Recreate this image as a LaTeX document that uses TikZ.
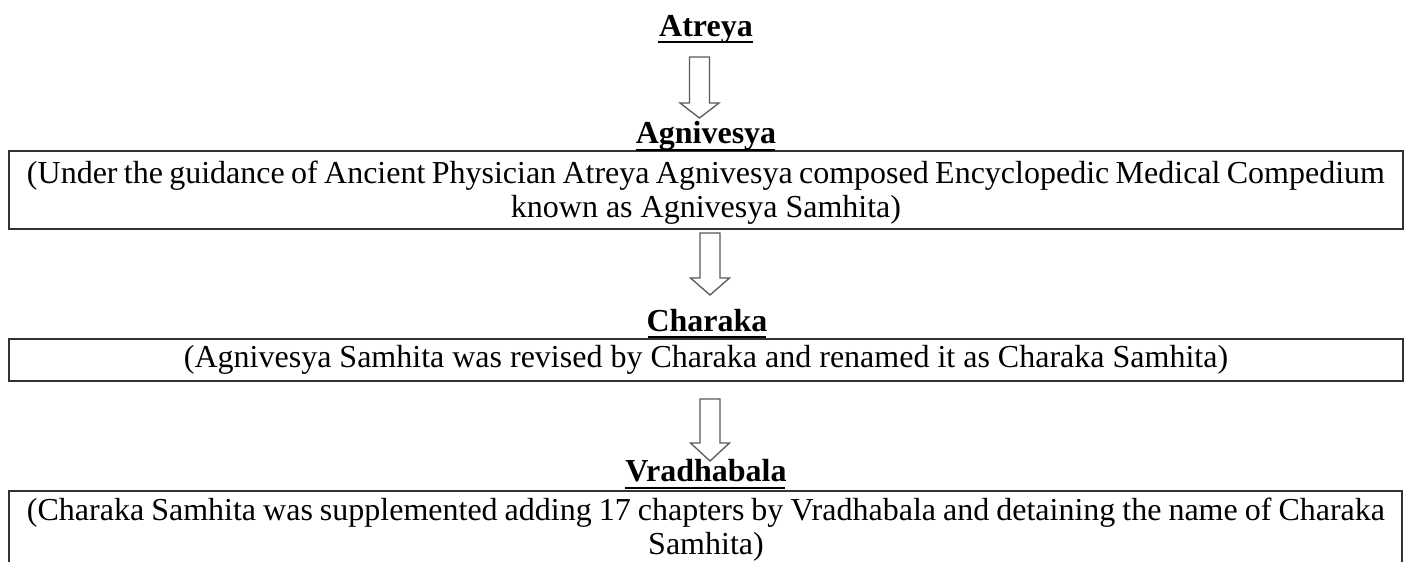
\documentclass[tikz,border=0pt]{standalone}
\usepackage{fontspec}
\setmainfont{Liberation Serif}
\usetikzlibrary{calc}
\tikzset{
  x=1pt, y=-1pt,
  txt/.style={anchor=base, inner sep=0pt, outer sep=0pt, font=\fontsize{32}{35}\selectfont, text=black},
  title/.style={txt, font=\fontsize{32}{35}\selectfont\bfseries},
  uline/.style={line width=2.2pt, black},
  framebox/.style={draw=black!80, line width=1.6pt},
  blockarrow/.style={draw=black!65, line width=1.3pt, fill=white, line join=miter}
}
\newcommand{\blockarr}[4]{% x centre, y top, y neck, y tip
  \draw[blockarrow] (#1-10,#2) -- (#1+10,#2) -- (#1+10,#3) -- (#1+19.5,#3) -- (#1,#4) -- (#1-19.5,#3) -- (#1-10,#3) -- cycle;}
\begin{document}
\begin{tikzpicture}
\useasboundingbox[fill=white] (0,0) rectangle (1409,562);
% boxes
\draw[framebox] (9,151) rectangle (1403,229);
\draw[framebox] (9,339) rectangle (1403,381);
\draw[framebox] (1402,600) -- (1402,491) -- (9,491) -- (9,600);
% titles
\node[title] (atreya) at (706,36) {Atreya};
\draw[uline] (658,42) -- (753,42);
\node[title] (agni) at (706,143) {Agnivesya};
\draw[uline] (636,150) -- (775,150);
\node[title] (charaka) at (707,331) {Charaka};
\draw[uline] (648,337) -- (766,337);
\node[title] (vradha) at (706,481) {Vradhabala};
\draw[uline] (625,488) -- (785,488);
% box texts
\node[txt] (t1a) at (706,183) {\makebox[1358pt][s]{(Under the guidance of Ancient Physician Atreya Agnivesya composed Encyclopedic Medical Compedium}};
\node[txt] (t1b) at (706,217) {known as Agnivesya Samhita)};
\node[txt] (t2) at (706,367) {(Agnivesya Samhita was revised by Charaka and renamed it as Charaka Samhita)};
\node[txt] (t3a) at (706,520) {\makebox[1358pt][s]{(Charaka Samhita was supplemented adding 17 chapters by Vradhabala and detaining the name of Charaka}};
\node[txt] (t3b) at (706,554) {Samhita)};
% block arrows
\blockarr{699.5}{57}{103}{118}
\blockarr{710}{233}{278}{295}
\blockarr{710}{399}{443}{461}
\end{tikzpicture}
\end{document}
